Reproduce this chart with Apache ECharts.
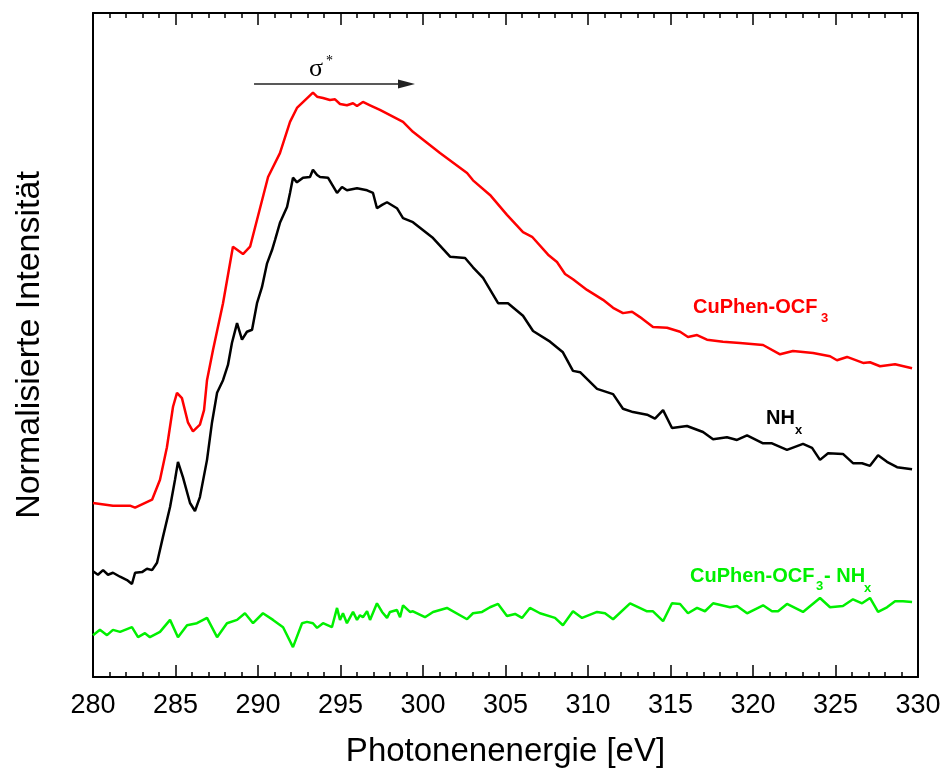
<!DOCTYPE html>
<html>
<head>
<meta charset="utf-8">
<script src="https://cdn.jsdelivr.net/npm/echarts@6/dist/echarts.min.js"></script>
<style>html,body{margin:0;padding:0;background:#fff}#c{width:946px;height:778px}</style>
</head>
<body>
<div id="c"></div>
<script>
// Photon energy (eV) and normalised intensity (arb. units, 0-100 axis)
const redE = [280.00,281.21,282.24,282.55,283.58,284.06,284.48,284.85,285.09,285.39,285.76,286.06,286.48,286.73,286.91,287.27,287.88,288.48,289.09,289.52,290.61,291.33,291.94,292.36,293.33,293.58,293.94,294.36,294.67,294.97,295.39,295.76,296.00,296.36,296.79,297.39,298.79,299.39,301.03,302.67,303.03,304.06,305.09,306.06,306.61,307.58,308.12,308.61,309.09,309.94,310.91,311.52,312.12,312.67,313.15,313.94,314.79,315.58,316.06,316.61,317.21,318.18,319.21,320.61,321.64,322.42,323.64,324.67,325.09,325.70,326.67,327.09,327.70,328.61,329.64];
const redI = [26.2,25.8,25.8,25.5,26.7,29.7,34.6,40.7,42.8,42.0,38.3,37.0,38.0,40.2,44.7,49.2,56.3,64.8,63.7,64.8,75.3,78.9,83.6,85.7,88.0,87.4,87.2,86.9,87.0,86.3,86.1,86.4,86.0,86.6,86.1,85.4,83.6,82.1,78.9,75.9,74.8,72.6,69.6,67.0,66.3,63.6,62.5,60.7,59.9,58.3,56.8,55.6,54.8,55.0,54.2,52.7,52.6,52.0,51.2,51.5,50.8,50.5,50.3,50.0,48.6,49.1,48.8,48.3,47.7,48.2,47.3,47.4,46.8,47.1,46.5];

const blackE = [280.02,280.30,280.61,280.91,281.21,281.64,282.06,282.36,282.55,282.97,283.27,283.58,283.88,284.24,284.67,284.97,285.15,285.45,285.88,286.18,286.48,286.91,287.21,287.52,287.88,288.18,288.42,288.73,289.03,289.33,289.64,289.94,290.24,290.55,290.85,291.03,291.33,291.76,291.94,292.12,292.36,292.73,293.15,293.33,293.58,293.76,294.24,294.79,295.09,295.39,296.00,296.61,296.97,297.21,297.52,297.82,298.42,298.79,299.39,300.61,301.64,302.55,303.03,303.64,304.55,305.15,306.06,306.67,307.70,308.48,309.09,309.52,310.55,311.52,312.12,312.73,313.58,314.06,314.55,315.09,316.00,316.97,317.58,318.42,319.03,319.64,320.61,321.15,322.06,323.03,323.58,324.06,324.55,325.45,326.06,326.61,327.09,327.58,328.12,328.73,329.64];
const blackI = [15.9,15.4,16.1,15.4,15.7,15.1,14.6,14.0,15.7,15.8,16.3,16.1,17.2,21.1,25.6,29.7,32.4,30.1,26.2,25.0,27.1,32.7,38.3,42.8,44.7,47.0,50.3,53.3,50.8,52.0,52.3,56.3,58.7,62.3,64.3,65.8,68.4,70.8,72.9,75.2,74.5,75.2,75.3,76.4,75.6,75.3,75.2,72.9,73.8,73.3,73.6,73.3,72.9,70.6,71.1,71.5,70.6,69.1,68.5,66.1,63.3,63.1,61.7,60.1,56.3,56.3,54.4,52.1,50.5,48.9,46.1,45.9,43.4,42.6,40.4,39.9,39.5,38.9,40.2,37.5,37.8,36.9,35.8,36.1,35.7,36.4,35.2,35.2,34.2,35.1,34.5,32.7,33.7,33.6,32.2,32.2,31.8,33.4,32.4,31.6,31.3];

const greenE = [280.00,280.42,280.85,281.21,281.64,282.36,282.73,283.15,283.45,284.06,284.67,285.15,285.70,286.30,286.91,287.52,288.12,288.73,289.21,289.70,290.30,290.91,291.52,292.12,292.67,292.97,293.33,293.58,293.94,294.48,294.79,294.97,295.15,295.39,295.76,296.00,296.18,296.36,296.61,296.79,297.21,297.52,297.82,298.00,298.42,298.61,298.79,299.21,299.39,300.12,300.61,301.45,302.67,303.03,303.58,304.06,304.55,305.09,305.58,306.00,306.48,307.09,308.00,308.48,309.09,309.64,310.55,311.03,311.52,312.55,313.58,313.94,314.55,315.09,315.58,316.06,316.61,317.09,317.58,318.61,319.03,319.64,320.61,321.15,321.52,322.06,323.03,324.06,324.67,325.45,326.06,326.61,327.09,327.58,328.12,328.61,329.09,329.64];
const greenI = [6.3,7.1,6.3,7.1,6.8,7.5,6.0,6.6,6.0,6.8,8.6,6.0,7.8,8.1,8.9,6.0,8.1,8.6,9.6,8.1,9.6,8.6,7.5,4.5,8.1,8.3,8.1,7.4,8.1,7.5,10.4,8.6,9.6,8.1,9.8,8.6,9.3,9.0,9.9,8.6,11.1,9.8,8.9,9.8,10.1,9.0,10.8,9.8,9.9,9.0,9.8,10.4,8.7,9.6,9.8,10.5,11.0,9.2,9.5,8.9,10.4,9.6,8.9,7.8,9.9,8.9,9.8,9.6,8.7,11.1,9.9,9.9,8.4,11.1,11.0,9.6,10.4,9.9,11.1,10.5,10.7,9.6,10.8,9.9,9.9,11.0,9.8,11.9,10.5,10.7,11.7,11.1,11.9,9.8,10.5,11.4,11.4,11.3];

const xTicks = [280,285,290,295,300,305,310,315,320,325,330];
const arrowFrom = [289.76, 89.3];
const arrowTo = [299.0, 89.3];

const zip = (a, b) => a.map((v, i) => [v, b[i]]);
const chart = echarts.init(document.getElementById('c'), null, {renderer: 'canvas'});
const FONT = 'Liberation Sans, Arial, sans-serif';
const axisLine = {show: true, onZero: false, lineStyle: {color: '#000', width: 2}};

chart.setOption({
  animation: false,
  backgroundColor: '#fff',
  grid: {left: 93, right: 28, top: 13, bottom: 101, containLabel: false},
  xAxis: [{
    type: 'value', min: xTicks[0], max: xTicks[xTicks.length - 1], interval: 5,
    position: 'bottom',
    axisLine: axisLine,
    axisTick: {show: true, inside: true, length: 12, lineStyle: {color: '#000', width: 1.5}},
    minorTick: {show: true, splitNumber: 5, length: 5, lineStyle: {color: '#000', width: 1.5}},
    splitLine: {show: false},
    axisLabel: {color: '#000', fontSize: 27, fontFamily: FONT, margin: 15},
    name: 'Photonenenergie [eV]', nameLocation: 'middle', nameGap: 58,
    nameTextStyle: {color: '#000', fontSize: 33, fontFamily: FONT}
  }, {
    type: 'value', min: xTicks[0], max: xTicks[xTicks.length - 1], interval: 5,
    position: 'top',
    axisLine: axisLine,
    axisTick: {show: true, inside: true, length: 12, lineStyle: {color: '#000', width: 1.5}},
    minorTick: {show: true, splitNumber: 5, length: 5, lineStyle: {color: '#000', width: 1.5}},
    splitLine: {show: false},
    axisLabel: {show: false}
  }],
  yAxis: [{
    type: 'value', min: 0, max: 100, position: 'left',
    axisLine: axisLine, axisTick: {show: false}, axisLabel: {show: false}, splitLine: {show: false},
    name: 'Normalisierte Intensität', nameLocation: 'middle', nameGap: 46,
    nameTextStyle: {color: '#000', fontSize: 34, fontFamily: FONT}
  }, {
    type: 'value', min: 0, max: 100, position: 'right',
    axisLine: axisLine, axisTick: {show: false}, axisLabel: {show: false}, splitLine: {show: false}
  }],
  series: [{
    name: 'CuPhen-OCF3 - NHx', type: 'line', data: zip(greenE, greenI),
    showSymbol: false, lineStyle: {color: '#00f000', width: 2.5}, z: 2
  }, {
    name: 'NHx', type: 'line', data: zip(blackE, blackI),
    showSymbol: false, lineStyle: {color: '#000', width: 2.5}, z: 3,
    markLine: {
      silent: true, symbol: ['none', 'triangle'], symbolSize: [9, 17],
      lineStyle: {color: '#222', width: 1.5, type: 'solid'},
      label: {show: false},
      data: [[{coord: arrowFrom}, {coord: arrowTo}]]
    }
  }, {
    name: 'CuPhen-OCF3', type: 'line', data: zip(redE, redI),
    showSymbol: false, lineStyle: {color: '#ff0000', width: 2.5}, z: 4
  }],
  graphic: [
    {type: 'text', left: 693, top: 297, style: {text: 'CuPhen-OCF', fill: '#ff0000', font: 'bold 20px ' + FONT}},
    {type: 'text', left: 821, top: 312, style: {text: '3', fill: '#ff0000', font: 'bold 13px ' + FONT}},
    {type: 'text', left: 766, top: 408, style: {text: 'NH', fill: '#000', font: 'bold 20px ' + FONT}},
    {type: 'text', left: 795, top: 424, style: {text: 'x', fill: '#000', font: 'bold 13px ' + FONT}},
    {type: 'text', left: 690, top: 566, style: {text: 'CuPhen-OCF', fill: '#00f000', font: 'bold 20px ' + FONT}},
    {type: 'text', left: 816, top: 580, style: {text: '3', fill: '#00f000', font: 'bold 13px ' + FONT}},
    {type: 'text', left: 824, top: 566, style: {text: '- NH', fill: '#00f000', font: 'bold 20px ' + FONT}},
    {type: 'text', left: 864, top: 582, style: {text: 'x', fill: '#00f000', font: 'bold 13px ' + FONT}},
    {type: 'text', left: 309, top: 56, style: {text: 'σ', fill: '#000', font: '26px Liberation Serif, Times New Roman, serif'}},
    {type: 'text', left: 326, top: 54, style: {text: '*', fill: '#000', font: '14px Liberation Serif, Times New Roman, serif'}}
  ]
});
</script>
</body>
</html>
